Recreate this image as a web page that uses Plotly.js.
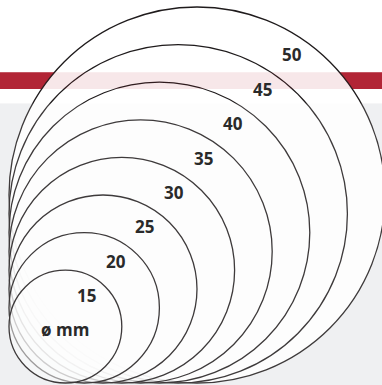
<!DOCTYPE html>
<html><head><meta charset="utf-8">
<script src="https://cdn.plot.ly/plotly-3.0.1.min.js"></script>
<style>html,body{margin:0;padding:0;background:#fff;overflow:hidden;}</style>
</head><body><div id="chart" style="width:382px;height:385px;"></div>
<script>
// Data: diameters in mm (largest first)
const diameters = [50, 45, 40, 35, 30, 25, 20, 15];
const labels = ['50', '45', '40', '35', '30', '25', '20', '15'];
const unitLabel = 'ø mm';

// Layout geometry (pixels)
const W = 382, H = 385;
const PX_PER_MM = 7.52;      // pixels per mm of diameter
const ORIGIN_X = 9, ORIGIN_Y = 383; // common tangent corner (left / bottom)
const xr = [-ORIGIN_X / PX_PER_MM, (W - ORIGIN_X) / PX_PER_MM];
const yr = [-(H - ORIGIN_Y) / PX_PER_MM, ORIGIN_Y / PX_PER_MM];

const LABEL_ANGLE = 56 * Math.PI / 180;
const LABEL_INSET = 19 / PX_PER_MM;

const GRAY_TOP = 1 - 103.5 / H;
const BAND_Y0 = 1 - 89 / H, BAND_Y1 = 1 - 72.3 / H;

const shapes = [
  {type: 'rect', xref: 'paper', yref: 'paper', x0: 0, x1: 1, y0: 0, y1: GRAY_TOP,
   fillcolor: '#eff0f2', line: {width: 0}, layer: 'below'},
  {type: 'rect', xref: 'paper', yref: 'paper', x0: 0, x1: 1, y0: BAND_Y0, y1: BAND_Y1,
   fillcolor: '#b22636', line: {width: 0}, layer: 'below'}
];
diameters.forEach((d, i) => {
  shapes.push({
    type: 'circle', xref: 'x', yref: 'y', x0: 0, x1: d, y0: 0, y1: d, layer: 'above',
    fillcolor: i === 0 ? 'rgba(255,255,255,1)' : 'rgba(255,255,255,0.5)',
    line: {color: '#1f1b1c', width: 1.3}
  });
});
// translucent tints over the circles (background shows faintly through them)
shapes.push(
  {type: 'rect', xref: 'paper', yref: 'paper', x0: 0, x1: 1, y0: 0, y1: GRAY_TOP,
   fillcolor: 'rgba(239,240,242,0.15)', line: {width: 0}, layer: 'above'},
  {type: 'rect', xref: 'paper', yref: 'paper', x0: 0, x1: 1, y0: BAND_Y0, y1: BAND_Y1,
   fillcolor: 'rgba(178,38,54,0.11)', line: {width: 0}, layer: 'above'}
);

const annotations = [];
diameters.forEach((d, i) => {
  const r = d / 2;
  annotations.push({
    xref: 'x', yref: 'y', showarrow: false, text: labels[i],
    x: r + (r - LABEL_INSET) * Math.cos(LABEL_ANGLE),
    y: r + (r - LABEL_INSET) * Math.sin(LABEL_ANGLE),
    xanchor: 'center', yanchor: 'middle'
  });
});
const dMin = diameters[diameters.length - 1];
annotations.push({
  xref: 'x', yref: 'y', showarrow: false, text: unitLabel,
  x: dMin / 2, y: dMin / 2 - 3 / PX_PER_MM, xanchor: 'center', yanchor: 'middle'
});
annotations.forEach(a => {
  a.font = {family: '"Open Sans", "DejaVu Sans", sans-serif', size: 17, color: '#2a2a2a', weight: 'bold'};
});

const trace = {type: 'scatter', mode: 'none', x: [], y: [], hoverinfo: 'skip', showlegend: false};

const layout = {
  width: W, height: H,
  margin: {l: 0, r: 0, t: 0, b: 0, pad: 0},
  paper_bgcolor: '#ffffff', plot_bgcolor: 'rgba(0,0,0,0)',
  xaxis: {range: xr, visible: false, fixedrange: true},
  yaxis: {range: yr, visible: false, fixedrange: true},
  shapes: shapes,
  annotations: annotations,
  showlegend: false
};

Plotly.newPlot('chart', [trace], layout, {staticPlot: true, displayModeBar: false});
</script>
</body></html>
